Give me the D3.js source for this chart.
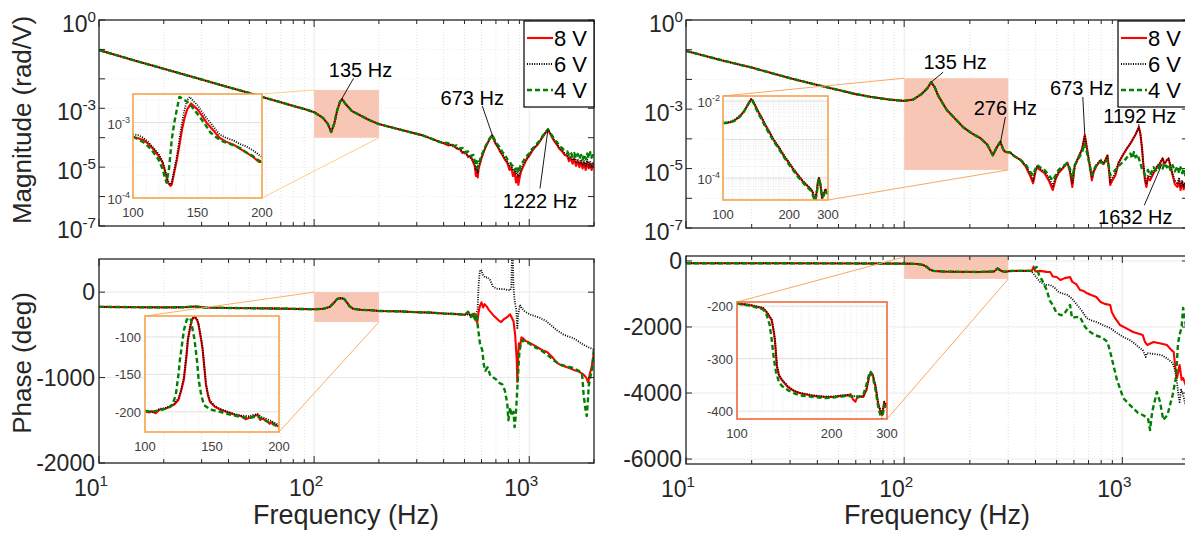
<!DOCTYPE html>
<html>
<head>
<meta charset="utf-8">
<script src="https://cdn.jsdelivr.net/npm/d3@7"></script>
<style>
  body { margin: 0; background: #fff; }
  svg { display: block; font-family: "Liberation Sans", Arial, Helvetica, sans-serif; }
</style>
</head>
<body>
<svg id="chart" width="1185" height="533"></svg>
<script>
// ---- series ----
const seriesNames = ["8 V", "6 V", "4 V"];

// ---- magnitude, left (rad/V) : [Hz, value] ----
const tlCommon = [[10,9.5e-2],[15,4.0e-2],[20,2.2e-2],[30,9.5e-3],[40,5.2e-3],[50,3.3e-3],[60,2.2e-3],[70,1.6e-3],[80,1.2e-3],[90,9.5e-4],[100,7.4e-4],[110,4.7e-4],[116,2.9e-4],[120,1.55e-4],[124,3.0e-4],[128,8.5e-4],[132,1.7e-3],[135,2.0e-3],[140,1.4e-3],[150,8.0e-4],[165,5.6e-4],[180,4.0e-4],[200,2.9e-4],[250,1.9e-4],[320,1.2e-4],[385,7.1e-5]];
const tlRedTail = [[400,6.5e-5],[420,5.5e-5],[440,5.8e-5],[460,4.3e-5],[478,4.0e-5],[490,3.0e-5],[505,3.3e-5],[520,2.2e-5],[535,2.4e-5],[550,1.4e-5],[558,1.1e-5],[565,5e-6],[570,8e-6],[576,4.5e-6],[582,9e-6],[590,1.3e-5],[600,2.0e-5],[611,3.0e-5],[625,4.5e-5],[640,6.5e-5],[655,9e-5],[673,1.2e-4],[685,8.5e-5],[700,6e-5],[717,4.6e-5],[735,3.2e-5],[750,2.6e-5],[770,1.8e-5],[791,1.4e-5],[810,8e-6],[825,1.0e-5],[840,5e-6],[855,7e-6],[868,3e-6],[880,5e-6],[890,2.5e-6],[900,4e-6],[915,7e-6],[935,1.0e-5],[955,1.4e-5],[979,2.0e-5],[1000,2.4e-5],[1030,3.5e-5],[1060,4.6e-5],[1089,5.6e-5],[1120,7.5e-5],[1150,1.0e-4],[1185,1.4e-4],[1222,1.9e-4],[1250,1.4e-4],[1280,1.0e-4],[1310,7.5e-5],[1349,5.6e-5],[1380,4.2e-5],[1420,3.5e-5],[1460,2.6e-5],[1503,2.4e-5],[1530,1.6e-5],[1560,2.0e-5],[1590,1.3e-5],[1620,1.9e-5],[1650,1.1e-5],[1680,1.6e-5],[1710,1.0e-5],[1740,1.5e-5],[1770,9e-6],[1800,1.4e-5],[1830,8e-6],[1860,1.5e-5],[1890,9e-6],[1920,1.3e-5],[1950,8e-6],[1980,1.2e-5],[2000,1.0e-5]];
const tlBlackTail = [[400,6.7e-5],[420,5.8e-5],[440,5.5e-5],[460,4.6e-5],[478,3.8e-5],[490,3.4e-5],[505,2.8e-5],[520,2.5e-5],[535,2.0e-5],[550,1.6e-5],[558,1.3e-5],[565,8e-6],[570,1.0e-5],[576,6.5e-6],[582,1.1e-5],[590,1.4e-5],[600,2.2e-5],[611,3.1e-5],[625,4.6e-5],[640,6.6e-5],[655,9.2e-5],[673,1.25e-4],[685,8.8e-5],[700,6.2e-5],[717,4.8e-5],[735,3.4e-5],[750,2.8e-5],[770,2.0e-5],[791,1.5e-5],[810,1.1e-5],[825,1.2e-5],[840,7.5e-6],[855,9e-6],[868,5.5e-6],[880,7e-6],[890,4.5e-6],[900,6e-6],[915,8.5e-6],[935,1.2e-5],[955,1.6e-5],[979,2.1e-5],[1000,2.6e-5],[1030,3.7e-5],[1060,4.8e-5],[1089,5.8e-5],[1120,7.8e-5],[1150,1.05e-4],[1185,1.45e-4],[1222,1.95e-4],[1250,1.45e-4],[1280,1.05e-4],[1310,8e-5],[1349,6e-5],[1380,4.6e-5],[1420,3.8e-5],[1460,3.0e-5],[1503,2.7e-5],[1530,2.0e-5],[1560,2.4e-5],[1590,1.7e-5],[1620,2.2e-5],[1650,1.5e-5],[1680,1.9e-5],[1710,1.3e-5],[1740,1.8e-5],[1770,1.2e-5],[1800,1.7e-5],[1830,1.1e-5],[1860,1.8e-5],[1890,1.2e-5],[1920,1.6e-5],[1950,1.1e-5],[1980,1.5e-5],[2000,1.3e-5]];
const tlGreenTail = [[400,7e-5],[420,6.5e-5],[440,5.2e-5],[460,5.5e-5],[478,4.2e-5],[490,4.5e-5],[505,3.2e-5],[520,3.4e-5],[535,2.4e-5],[550,2.6e-5],[558,1.6e-5],[565,1.2e-5],[570,1.6e-5],[576,9e-6],[582,1.5e-5],[590,1.7e-5],[600,2.6e-5],[611,3.3e-5],[625,5e-5],[640,7e-5],[655,9.5e-5],[673,1.25e-4],[685,9.5e-5],[700,7e-5],[717,5.5e-5],[735,4.5e-5],[750,3.2e-5],[770,2.8e-5],[791,1.8e-5],[810,1.6e-5],[825,1.2e-5],[840,1.1e-5],[855,8e-6],[868,9e-6],[880,6.5e-6],[890,1.0e-5],[900,8e-6],[915,1.3e-5],[935,1.5e-5],[955,2.0e-5],[979,2.5e-5],[1000,2.9e-5],[1030,4.2e-5],[1060,5.0e-5],[1089,6.5e-5],[1120,8e-5],[1150,1.1e-4],[1185,1.5e-4],[1222,1.9e-4],[1250,1.5e-4],[1280,1.15e-4],[1310,8.5e-5],[1349,7e-5],[1380,5.2e-5],[1420,4.5e-5],[1460,3.6e-5],[1503,3.4e-5],[1530,2.6e-5],[1560,3.2e-5],[1590,2.3e-5],[1620,3.0e-5],[1650,2.0e-5],[1680,2.8e-5],[1710,1.9e-5],[1740,2.6e-5],[1770,1.8e-5],[1800,2.7e-5],[1830,1.9e-5],[1860,2.9e-5],[1890,2.0e-5],[1920,3.2e-5],[1950,2.1e-5],[1980,3.0e-5],[2000,2.4e-5]];

// ---- magnitude, right ----
const trCommon = [[10,9.1e-2],[15,4.2e-2],[20,2.5e-2],[30,1.1e-2],[40,6.5e-3],[50,4.4e-3],[60,3.2e-3],[70,2.6e-3],[85,2.1e-3],[100,1.9e-3],[110,2.1e-3],[120,3.2e-3],[128,5.1e-3],[133,8.1e-3],[138,5.5e-3],[143,2.9e-3],[150,1.6e-3],[157,9.3e-4],[170,5e-4],[186,2.5e-4],[205,1.5e-4],[223,1.07e-4],[240,6.5e-5],[255,2.8e-5],[265,5e-5],[276,8e-5],[284,4.5e-5],[291,3.6e-5],[306,3.5e-5],[320,2.6e-5],[340,2.0e-5]];
const trRedTail = [[360,1.2e-5],[377,6e-6],[390,3.2e-6],[400,8e-6],[407,1.1e-5],[420,9e-6],[440,7e-6],[460,4e-6],[480,1.9e-6],[495,4.5e-6],[510,7e-6],[535,1.05e-5],[560,1.6e-5],[575,8e-6],[590,2.4e-6],[605,1.2e-5],[630,2.4e-5],[654,4.5e-5],[665,8.5e-5],[673,1.35e-4],[685,6e-5],[700,2.2e-5],[712,1.0e-5],[725,4e-6],[740,8e-6],[760,1.2e-5],[795,1.9e-5],[820,1.4e-5],[855,2.8e-5],[870,8e-6],[880,2.8e-6],[900,4e-6],[930,6e-6],[960,1.5e-5],[1000,2.6e-5],[1030,3.8e-5],[1060,5.3e-5],[1090,7e-5],[1120,1.0e-4],[1150,1.4e-4],[1175,2.0e-4],[1190,2.5e-4],[1210,1.5e-4],[1230,5e-5],[1250,1.2e-5],[1270,4e-6],[1290,2.4e-6],[1310,5e-6],[1340,4e-6],[1390,7e-6],[1440,1.1e-5],[1490,1.5e-5],[1530,2.2e-5],[1560,1.4e-5],[1600,1.9e-5],[1630,2.2e-5],[1660,1.2e-5],[1700,6e-6],[1740,3e-6],[1790,2.4e-6],[1820,4e-6],[1850,1.9e-6],[1880,3.5e-6],[1910,2e-6],[1940,3e-6],[1970,1.8e-6],[2000,2.6e-6]];
const trBlackTail = [[360,1.3e-5],[377,7e-6],[390,4e-6],[400,9e-6],[407,1.2e-5],[420,1.0e-5],[440,8e-6],[460,5e-6],[480,2.6e-6],[495,5e-6],[510,8e-6],[535,1.1e-5],[560,1.5e-5],[575,9e-6],[590,3e-6],[605,1.3e-5],[630,2.5e-5],[654,4.5e-5],[665,8.5e-5],[673,1.3e-4],[685,6e-5],[700,2.4e-5],[712,1.2e-5],[725,5e-6],[740,9e-6],[760,1.3e-5],[795,2.0e-5],[820,1.5e-5],[855,2.6e-5],[870,9e-6],[880,3.5e-6],[900,5e-6],[930,7e-6],[960,1.6e-5],[1000,2.7e-5],[1030,3.8e-5],[1060,5.2e-5],[1090,7e-5],[1120,1.0e-4],[1150,1.4e-4],[1175,2.0e-4],[1190,2.4e-4],[1210,1.5e-4],[1230,5.5e-5],[1250,1.4e-5],[1270,5e-6],[1290,3e-6],[1310,6e-6],[1340,5e-6],[1390,8e-6],[1440,1.2e-5],[1490,1.6e-5],[1530,2.2e-5],[1560,1.5e-5],[1600,2.0e-5],[1630,2.2e-5],[1660,1.3e-5],[1700,7e-6],[1740,4e-6],[1790,3e-6],[1820,5e-6],[1850,2.4e-6],[1880,4e-6],[1910,2.5e-6],[1940,3.5e-6],[1970,2.2e-6],[2000,3e-6]];
const trGreenTail = [[360,1.4e-5],[377,8e-6],[390,6e-6],[400,1.0e-5],[407,1.3e-5],[420,1.1e-5],[440,9e-6],[460,6e-6],[480,4e-6],[495,6e-6],[510,9e-6],[535,1.2e-5],[560,1.5e-5],[575,1.0e-5],[590,5e-6],[605,1.3e-5],[630,2.2e-5],[654,3.5e-5],[665,5.5e-5],[673,7e-5],[685,4e-5],[700,2.0e-5],[712,1.1e-5],[725,6e-6],[740,9e-6],[760,1.3e-5],[795,1.7e-5],[820,1.4e-5],[855,2.0e-5],[870,1.0e-5],[880,6e-6],[900,7e-6],[930,9e-6],[960,1.2e-5],[1000,1.6e-5],[1030,2.0e-5],[1060,2.6e-5],[1090,3.2e-5],[1110,2.2e-5],[1130,3.6e-5],[1150,2.4e-5],[1175,3.0e-5],[1190,2.2e-5],[1210,1.5e-5],[1230,1.0e-5],[1250,8e-6],[1270,6e-6],[1290,7e-6],[1310,9e-6],[1340,6e-6],[1390,1.1e-5],[1440,8e-6],[1490,1.3e-5],[1530,1.0e-5],[1560,1.5e-5],[1600,1.1e-5],[1630,1.4e-5],[1660,9e-6],[1700,1.3e-5],[1740,8e-6],[1790,1.2e-5],[1820,7e-6],[1850,1.1e-5],[1880,7e-6],[1910,1.0e-5],[1940,6e-6],[1970,9e-6],[2000,7e-6]];

// ---- phase, left (deg) ----
const blCommon = [[10,-172],[15,-176],[20,-178],[25,-176],[28,-168],[31,-180],[40,-185],[60,-190],[80,-196],[100,-200],[110,-195],[118,-175],[124,-120],[128,-80],[133,-70],[138,-80],[142,-120],[146,-165],[152,-195],[165,-207],[185,-212],[200,-220],[250,-225],[300,-235],[350,-240],[400,-250],[450,-255],[500,-265]];
const blRedTail = [[520,-240],[540,-290],[555,-250],[565,-320],[573,-360],[580,-250],[590,-160],[600,-120],[610,-180],[620,-140],[635,-170],[650,-210],[665,-240],[680,-270],[700,-300],[720,-330],[740,-350],[760,-320],[780,-300],[800,-280],[815,-260],[830,-300],[845,-340],[860,-500],[875,-800],[880,-1050],[888,-750],[895,-600],[905,-650],[920,-530],[935,-540],[960,-570],[1000,-590],[1050,-620],[1100,-650],[1150,-680],[1210,-700],[1280,-760],[1350,-830],[1420,-860],[1500,-880],[1610,-910],[1700,-930],[1790,-965],[1840,-1000],[1880,-1060],[1910,-960],[1950,-880],[2000,-700]];
const blBlackTail = [[520,-260],[540,-280],[555,-300],[565,-270],[575,-200],[582,100],[590,260],[600,250],[610,200],[625,170],[640,175],[655,150],[680,60],[710,40],[760,35],[800,25],[815,20],[825,60],[832,420],[838,420],[845,60],[855,-100],[870,-200],[880,-420],[890,-250],[905,-150],[925,-190],[950,-220],[979,-245],[1030,-270],[1120,-300],[1200,-340],[1280,-400],[1350,-450],[1450,-500],[1610,-540],[1700,-580],[1800,-620],[1900,-650],[2000,-670]];
const blGreenTail = [[520,-230],[535,-290],[550,-240],[560,-320],[570,-280],[578,-420],[590,-600],[605,-680],[615,-850],[625,-920],[640,-880],[660,-980],[680,-1000],[700,-1020],[720,-1060],[750,-1080],[770,-1150],[790,-1300],[800,-1500],[815,-1350],[830,-1450],[845,-1400],[855,-1580],[865,-1450],[875,-1250],[890,-900],[900,-700],[915,-590],[935,-560],[960,-590],[1000,-600],[1050,-640],[1100,-660],[1210,-730],[1300,-800],[1400,-850],[1500,-870],[1610,-890],[1700,-920],[1760,-960],[1790,-1200],[1820,-1350],[1850,-1450],[1870,-1300],[1890,-1100],[1920,-1000],[1960,-900],[2000,-650]];

// ---- phase, right (deg) ----
const brCommon = [[10,-70],[30,-70],[60,-75],[100,-80],[115,-91],[122,-120],[127,-180],[131,-260],[136,-300],[150,-320],[180,-330],[220,-333],[258,-320],[268,-227],[278,-300],[290,-330],[306,-303],[340,-300],[377,-300]];
const brRedTail = [[385,-300],[392,-170],[400,-320],[420,-300],[450,-330],[467,-333],[480,-470],[500,-485],[520,-576],[545,-520],[576,-485],[590,-636],[615,-700],[640,-879],[660,-900],[685,-970],[720,-1030],[760,-1091],[795,-1242],[830,-1300],[880,-1333],[895,-1550],[920,-1700],[975,-1939],[1050,-2050],[1120,-2152],[1180,-2200],[1240,-2242],[1270,-2450],[1300,-2545],[1390,-2455],[1500,-2500],[1600,-2545],[1680,-2700],[1720,-2760],[1750,-3242],[1780,-3545],[1830,-3152],[1870,-3600],[1900,-3545],[1950,-3758],[2000,-3700]];
const brBlackTail = [[385,-330],[395,-424],[420,-636],[445,-727],[467,-727],[490,-818],[510,-939],[540,-1000],[560,-1030],[590,-1150],[620,-1333],[650,-1500],[685,-1727],[720,-1800],[760,-1848],[820,-1950],[880,-2030],[930,-2150],[975,-2242],[1030,-2330],[1080,-2394],[1140,-2500],[1200,-2636],[1240,-2700],[1280,-2909],[1300,-2788],[1400,-2820],[1510,-2848],[1600,-2950],[1700,-3091],[1740,-3300],[1780,-3667],[1810,-4100],[1830,-4273],[1860,-3900],[1900,-4061],[1950,-4364],[2000,-4200]];
const brGreenTail = [[385,-300],[395,-240],[405,-182],[415,-420],[430,-600],[450,-879],[465,-1200],[480,-1333],[500,-1576],[520,-1636],[535,-1636],[555,-1500],[576,-1333],[588,-1727],[610,-1700],[640,-1697],[675,-2000],[712,-2152],[750,-2250],[795,-2303],[830,-2380],[855,-2455],[880,-2758],[910,-3152],[945,-3606],[980,-3900],[1010,-4152],[1060,-4300],[1120,-4455],[1180,-4600],[1240,-4667],[1310,-4758],[1340,-5121],[1370,-4576],[1440,-3970],[1490,-4273],[1540,-4818],[1610,-4667],[1700,-4061],[1760,-3545],[1800,-2500],[1830,-2242],[1870,-2000],[1900,-1424],[1940,-1800],[1970,-2100],[2000,-1900]];

// ---- insets ----
const tlInsetRed = [[100,6.5e-4],[104,6.2e-4],[108,5.9e-4],[112,5.2e-4],[116,4.4e-4],[120,3.6e-4],[123,2.95e-4],[125,2.2e-4],[127,1.6e-4],[129,1.45e-4],[130,1.5e-4],[132,2.2e-4],[134,3.2e-4],[136,5e-4],[138,8.1e-4],[140,1.15e-3],[142,1.5e-3],[145,1.8e-3],[150,1.5e-3],[154,1.2e-3],[157,1.0e-3],[162,8e-4],[167,6.3e-4],[172,5.6e-4],[178,5.1e-4],[183,4.5e-4],[188,4.0e-4],[193,3.5e-4],[198,3.0e-4],[200,3.0e-4]];
const tlInsetBlack = [[100,7e-4],[104,6.8e-4],[108,6.3e-4],[112,5.5e-4],[116,4.6e-4],[120,3.8e-4],[123,3.0e-4],[125,2.3e-4],[127,1.7e-4],[129,1.5e-4],[130,1.6e-4],[132,2.4e-4],[134,3.6e-4],[136,6e-4],[138,1.0e-3],[140,1.5e-3],[142,2.0e-3],[144,2.2e-3],[146,2.0e-3],[150,1.7e-3],[154,1.35e-3],[157,1.15e-3],[162,9e-4],[167,7e-4],[172,6.3e-4],[178,5.8e-4],[183,5.2e-4],[188,4.8e-4],[193,4.3e-4],[198,3.7e-4],[200,3.5e-4]];
const tlInsetGreen = [[100,6.5e-4],[104,6.0e-4],[108,5.5e-4],[112,4.8e-4],[116,4.0e-4],[120,3.2e-4],[123,2.4e-4],[125,1.8e-4],[126,1.6e-4],[128,2.5e-4],[130,5.9e-4],[132,1.0e-3],[134,1.5e-3],[136,2.2e-3],[138,2.1e-3],[142,1.9e-3],[146,1.6e-3],[150,1.3e-3],[155,1.0e-3],[160,7.4e-4],[165,6.3e-4],[170,5.6e-4],[178,5.0e-4],[183,4.6e-4],[188,4.0e-4],[193,3.6e-4],[198,3.1e-4],[200,3.0e-4]];

const trInsetRed = [[100,2.7e-3],[104,2.7e-3],[108,2.8e-3],[112,3.1e-3],[115,3.4e-3],[119,4.0e-3],[122,4.6e-3],[125,5.6e-3],[128,7e-3],[131,8.8e-3],[134,1.1e-2],[136,1.05e-2],[138,9e-3],[141,7e-3],[145,5.1e-3],[150,3.6e-3],[155,2.5e-3],[162,1.6e-3],[170,9.7e-4],[180,6e-4],[190,3.6e-4],[200,2.4e-4],[210,1.6e-4],[220,1.15e-4],[230,8.3e-5],[240,6.5e-5],[250,5.2e-5],[256,4.2e-5],[262,2.2e-5],[266,4e-5],[270,8e-5],[273,1.0e-4],[277,7e-5],[282,3e-5],[287,3.8e-5],[292,5e-5],[296,4.2e-5],[300,4e-5]];
const trInsetBlack = [[100,2.8e-3],[104,2.8e-3],[108,2.9e-3],[112,3.2e-3],[115,3.5e-3],[119,4.1e-3],[122,4.7e-3],[125,5.7e-3],[128,7.1e-3],[131,9e-3],[134,1.12e-2],[136,1.06e-2],[138,9.2e-3],[141,7.2e-3],[145,5.3e-3],[150,3.7e-3],[155,2.6e-3],[162,1.65e-3],[170,1.0e-3],[180,6.2e-4],[190,3.8e-4],[200,2.5e-4],[210,1.7e-4],[220,1.2e-4],[230,8.6e-5],[240,6.7e-5],[250,5.4e-5],[256,4.4e-5],[262,2.8e-5],[266,4.2e-5],[270,8.2e-5],[273,1.0e-4],[277,7.2e-5],[282,3.2e-5],[287,4e-5],[292,5.2e-5],[296,4.4e-5],[300,4.1e-5]];
const trInsetGreen = [[100,2.7e-3],[104,2.7e-3],[108,2.8e-3],[112,3.0e-3],[115,3.3e-3],[119,3.9e-3],[122,4.5e-3],[125,5.5e-3],[128,7e-3],[131,8.8e-3],[134,1.08e-2],[136,1.02e-2],[138,8.6e-3],[141,6.5e-3],[145,4.7e-3],[150,3.3e-3],[155,2.3e-3],[162,1.45e-3],[170,9e-4],[180,5.6e-4],[190,3.4e-4],[200,2.2e-4],[210,1.5e-4],[220,1.05e-4],[230,7.8e-5],[240,6e-5],[250,4.8e-5],[256,3.6e-5],[262,2.6e-5],[266,3.6e-5],[270,7e-5],[273,9.5e-5],[277,6.8e-5],[282,3.2e-5],[287,3.5e-5],[292,4.8e-5],[296,4.2e-5],[300,3.8e-5]];

const blInsetRed = [[100,-199],[103,-201],[105,-199],[108,-202],[111,-197],[115,-196],[119,-193],[122,-190],[125,-184],[127,-172],[129,-157],[131,-125],[132,-104],[134,-85],[135,-77],[137,-73],[139,-78],[140,-84],[142,-105],[143,-117],[145.5,-164],[147,-178],[148.5,-187],[152,-193],[156,-197],[162,-201],[167,-204],[172,-206],[175,-210],[178,-208],[181,-206],[184,-204],[186,-211],[187,-209],[190,-211],[193,-216],[194,-214],[197,-217],[200,-220]];
const blInsetBlack = [[100,-198],[103,-199],[105,-201],[108,-199],[111,-196],[115,-195],[119,-192],[122,-189],[125,-182],[127,-170],[129,-154],[131,-122],[132,-102],[134,-83],[135,-76],[137,-72],[139,-77],[140,-83],[142,-103],[143,-115],[145.5,-162],[147,-176],[148.5,-185],[152,-192],[156,-196],[162,-200],[167,-203],[172,-205],[178,-206],[181,-204],[184,-203],[187,-207],[190,-209],[194,-212],[197,-215],[200,-218]];
const blInsetGreen = [[100,-199],[105,-200],[111,-198],[115,-196],[119,-193],[121,-188],[123,-177],[125,-150],[126,-131],[128,-105],[129,-91],[131,-78],[132,-75],[134,-75],[135,-85],[137,-104],[139,-135],[140,-157],[142,-178],[144,-191],[149,-197],[156,-200],[162,-203],[167,-205],[172,-207],[178,-208],[184,-206],[190,-212],[197,-218],[200,-221]];

const brInsetRed = [[100,-195],[110,-198],[121,-204],[124,-211],[127,-220],[129,-227],[131,-250],[132,-265],[134,-316],[136,-332],[139,-341],[145,-354],[152,-362],[159,-366],[175,-371],[190,-373],[202,-373],[215,-371],[224,-370],[230,-368],[234,-378],[238,-382],[242,-372],[252,-373],[258,-360],[263,-335],[266,-327],[270,-330],[276,-354],[281,-385],[285,-398],[289,-408],[292,-395],[294,-383],[297,-392],[300,-385]];
const brInsetBlack = [[100,-195],[110,-197],[121,-203],[124,-210],[127,-219],[129,-226],[131,-248],[132,-262],[134,-312],[136,-330],[139,-340],[145,-352],[152,-361],[159,-365],[175,-370],[190,-372],[202,-372],[215,-370],[224,-369],[234,-372],[242,-371],[252,-372],[258,-358],[263,-333],[266,-326],[270,-329],[276,-352],[281,-383],[285,-396],[289,-404],[292,-392],[294,-382],[297,-390],[300,-384]];
const brInsetGreen = [[100,-195],[110,-199],[121,-206],[124,-215],[127,-235],[129,-265],[131,-300],[133,-325],[136,-345],[139,-352],[145,-360],[152,-366],[159,-370],[175,-373],[190,-375],[202,-374],[215,-372],[224,-371],[234,-372],[242,-374],[252,-370],[258,-350],[263,-330],[266,-325],[270,-333],[276,-360],[281,-390],[285,-405],[289,-418],[292,-400],[294,-388],[297,-395],[300,-390]];

// ---- ticks / annotations ----
const magTickExps = [0, -3, -5, -7];
const blPhaseTicks = [0, -1000, -2000];
const brPhaseTicks = [0, -2000, -4000, -6000];
const freqTickExps = [1, 2, 3];
const tlPeaks = [{ f: 134, v: 2.0e-3, label: "135 Hz" }, { f: 673, v: 1.25e-4, label: "673 Hz" }, { f: 1222, v: 1.9e-4, label: "1222 Hz" }];
const trPeaks = [{ f: 133, v: 8.1e-3, label: "135 Hz" }, { f: 276, v: 7.2e-5, label: "276 Hz" }, { f: 673, v: 1.35e-4, label: "673 Hz" }, { f: 1190, v: 2.5e-4, label: "1192 Hz" }, { f: 1525, v: 1.5e-5, label: "1632 Hz" }];

// ---------------------------------------------------------------------------
const svg = d3.select("#chart");
const INK = "#262626";
const styles = [
  { color: "#ff0000", width: 2.1, dash: null },
  { color: "#000000", width: 1.8, dash: "1,1.4" },
  { color: "#008000", width: 2.4, dash: "5,3" },
];
let clipCount = 0;

function clipFor(g, x, y, w, h) {
  const id = `clip-${clipCount++}`;
  g.append("clipPath").attr("id", id).append("rect").attr("x", x).attr("y", y).attr("width", w).attr("height", h);
  return `url(#${id})`;
}

function drawCurves(g, x, y, data, clip) {
  const line = d3.line().x((d) => x(d[0])).y((d) => y(d[1]));
  const cg = g.append("g").attr("clip-path", clip);
  data.forEach((d, i) => {
    const s = styles[i];
    cg.append("path").attr("d", line(d)).attr("fill", "none")
      .attr("stroke", s.color).attr("stroke-width", s.width)
      .attr("stroke-dasharray", s.dash).attr("stroke-linejoin", "round");
  });
}

// superscript label: "10" with exponent
function powLabel(g, exp, x, y, anchor, size) {
  const t = g.append("text").attr("x", x).attr("y", y).attr("text-anchor", anchor)
    .attr("fill", INK).attr("font-size", size);
  t.append("tspan").text("10");
  t.append("tspan").attr("dy", -size * 0.45).attr("font-size", size * 0.66).text(exp);
  return t;
}

function drawPanel(p) {
  const g = svg.append("g");
  const x = d3.scaleLog().domain([10, 2000]).range([p.x0, p.x1]);
  const y = (p.log ? d3.scaleLog() : d3.scaleLinear()).domain(p.yDomain).range([p.y1, p.y0]);
  const w = p.x1 - p.x0, h = p.y1 - p.y0;
  g.append("rect").attr("x", p.x0).attr("y", p.y0).attr("width", w).attr("height", h).attr("fill", "#fff");

  // grid
  const majorX = [10, 100, 1000];
  const minorX = [];
  [10, 100, 1000].forEach((d) => { for (let k = 2; k <= 9; k++) if (d * k <= 2000) minorX.push(d * k); });
  g.selectAll(null).data(minorX).join("line")
    .attr("x1", x).attr("x2", x).attr("y1", p.y0).attr("y2", p.y1)
    .attr("stroke", "#dcdcdc").attr("stroke-width", 0.8).attr("stroke-dasharray", "1,2");
  g.selectAll(null).data(majorX).join("line")
    .attr("x1", x).attr("x2", x).attr("y1", p.y0).attr("y2", p.y1)
    .attr("stroke", "#e4e4e4").attr("stroke-width", 0.8);
  g.selectAll(null).data(p.yGrid).join("line")
    .attr("x1", p.x0).attr("x2", p.x1).attr("y1", y).attr("y2", y)
    .attr("stroke", "#e4e4e4").attr("stroke-width", 0.8).attr("stroke-dasharray", p.log ? "1,2" : null);

  // zoom region
  const z = p.zoom;
  g.append("rect").attr("x", x(z.f[0])).attr("y", y(z.v[1]))
    .attr("width", x(z.f[1]) - x(z.f[0])).attr("height", y(z.v[0]) - y(z.v[1]))
    .attr("fill", "#f8c6b5").attr("clip-path", clipFor(g, p.x0, p.y0, w, h));

  drawCurves(g, x, y, p.data, clipFor(g, p.x0, p.y0, w, h));

  // frame + ticks
  g.append("rect").attr("x", p.x0).attr("y", p.y0).attr("width", w).attr("height", h)
    .attr("fill", "none").attr("stroke", INK).attr("stroke-width", 1.3);
  const tk = g.append("g").attr("stroke", INK).attr("stroke-width", 1);
  majorX.concat(minorX).forEach((f) => {
    const len = majorX.includes(f) ? 7 : 4;
    tk.append("line").attr("x1", x(f)).attr("x2", x(f)).attr("y1", p.y1).attr("y2", p.y1 - len);
    tk.append("line").attr("x1", x(f)).attr("x2", x(f)).attr("y1", p.y0).attr("y2", p.y0 + len);
  });
  p.yTickMarks.forEach((v) => {
    tk.append("line").attr("x1", p.x0).attr("x2", p.x0 + 6).attr("y1", y(v)).attr("y2", y(v));
    tk.append("line").attr("x1", p.x1).attr("x2", p.x1 - 6).attr("y1", y(v)).attr("y2", y(v));
  });

  // y labels
  if (p.log) {
    magTickExps.forEach((e) => powLabel(g, String(e), p.x0 - 3, y(Math.pow(10, e)) + 12, "end", 23));
  } else {
    p.yLabels.forEach((v) => g.append("text").attr("x", p.x0 - 4).attr("y", y(v) + 8)
      .attr("text-anchor", "end").attr("fill", INK).attr("font-size", 23).text(v));
  }
  // x labels (only under phase panels)
  if (p.xLabels) {
    freqTickExps.forEach((e) => powLabel(g, String(e), x(Math.pow(10, e)) - 25, p.y1 + 33, "start", 23));
  }
  return { x, y };
}

function drawInset(ins) {
  const g = svg.append("g");
  const w = ins.x1 - ins.x0, h = ins.y1 - ins.y0;
  const x = (ins.xlog ? d3.scaleLog() : d3.scaleLinear()).domain(ins.xDomain).range([ins.x0, ins.x1]);
  const y = (ins.ylog ? d3.scaleLog() : d3.scaleLinear()).domain(ins.yDomain).range([ins.y1, ins.y0]);
  g.append("rect").attr("x", ins.x0).attr("y", ins.y0).attr("width", w).attr("height", h).attr("fill", "#fff");
  g.selectAll(null).data(ins.xGrid).join("line")
    .attr("x1", x).attr("x2", x).attr("y1", ins.y0).attr("y2", ins.y1)
    .attr("stroke", "#e2e2e2").attr("stroke-width", 0.7).attr("stroke-dasharray", "1,1.5");
  g.selectAll(null).data(ins.yGrid).join("line")
    .attr("x1", ins.x0).attr("x2", ins.x1).attr("y1", y).attr("y2", y)
    .attr("stroke", "#e2e2e2").attr("stroke-width", 0.7).attr("stroke-dasharray", "1,1.5");
  g.selectAll(null).data(ins.yMajor).join("line")
    .attr("x1", ins.x0).attr("x2", ins.x1).attr("y1", y).attr("y2", y)
    .attr("stroke", "#e0e0e0").attr("stroke-width", 1);
  drawCurves(g, x, y, ins.data, clipFor(g, ins.x0, ins.y0, w, h));
  g.append("rect").attr("x", ins.x0).attr("y", ins.y0).attr("width", w).attr("height", h)
    .attr("fill", "none").attr("stroke", ins.border).attr("stroke-width", 1.6);

  ins.xLabels.forEach((v) => g.append("text").attr("x", x(v)).attr("y", ins.y1 + 19)
    .attr("text-anchor", "middle").attr("fill", "#404040").attr("font-size", 13).text(v));
  ins.yLabels.forEach((v) => {
    if (ins.ylog) {
      const t = g.append("text").attr("x", ins.x0 - 3).attr("y", y(v) + 6).attr("text-anchor", "end")
        .attr("fill", "#404040").attr("font-size", 13);
      t.append("tspan").text("10");
      t.append("tspan").attr("dy", -6).attr("font-size", 9).text(String(Math.round(Math.log10(v))));
    } else {
      g.append("text").attr("x", ins.x0 - 4).attr("y", y(v) + 5).attr("text-anchor", "end")
        .attr("fill", "#404040").attr("font-size", 13).text(v);
    }
  });
  return { x, y };
}

function connect(a, b, color) {
  svg.append("line").attr("x1", a[0]).attr("y1", a[1]).attr("x2", b[0]).attr("y2", b[1])
    .attr("stroke", color).attr("stroke-width", 1);
}

function drawLegend(x0, y0, w, rowH) {
  const g = svg.append("g");
  g.append("rect").attr("x", x0).attr("y", y0).attr("width", w).attr("height", rowH * 3 + 8)
    .attr("fill", "#fff").attr("stroke", "#000").attr("stroke-width", 1.2);
  seriesNames.forEach((name, i) => {
    const s = styles[i];
    const cy = y0 + 17 + i * rowH;
    g.append("line").attr("x1", x0 + 3).attr("x2", x0 + 29).attr("y1", cy).attr("y2", cy)
      .attr("stroke", s.color).attr("stroke-width", s.width).attr("stroke-dasharray", s.dash);
    g.append("text").attr("x", x0 + 30).attr("y", cy + 8).attr("font-size", 22).attr("fill", "#000").text(name);
  });
}

function drawPeaks(sc, peaks, offsets) {
  const g = svg.append("g");
  peaks.forEach((pk, i) => {
    const o = offsets[i];
    const px = sc.x(pk.f), py = sc.y(pk.v);
    g.append("line").attr("x1", px).attr("y1", py).attr("x2", px + o.lx).attr("y2", py + o.ly)
      .attr("stroke", "#000").attr("stroke-width", 0.9);
    g.append("text").attr("x", px + o.tx).attr("y", py + o.ty).attr("text-anchor", "middle")
      .attr("font-size", 20).attr("fill", "#000").text(pk.label);
  });
}

// ---- panels ----
const magGrid = d3.range(0, 8).map((k) => Math.pow(10, -k));
const TL = drawPanel({
  x0: 99, x1: 594, y0: 20, y1: 226, log: true, yDomain: [1e-7, 1],
  yGrid: magGrid, yTickMarks: magGrid,
  zoom: { f: [100, 200], v: [1e-4, 4.2e-3] },
  data: [tlCommon.concat(tlRedTail), tlCommon.concat(tlBlackTail), tlCommon.concat(tlGreenTail)],
});
const TR = drawPanel({
  x0: 686, x1: 1188, y0: 20, y1: 228, log: true, yDomain: [1e-7, 1],
  yGrid: magGrid, yTickMarks: magGrid,
  zoom: { f: [100, 300], v: [9e-6, 1.1e-2] },
  data: [trCommon.concat(trRedTail), trCommon.concat(trBlackTail), trCommon.concat(trGreenTail)],
});
const BL = drawPanel({
  x0: 99, x1: 594, y0: 259, y1: 463, log: false, yDomain: [-2000, 388],
  yGrid: blPhaseTicks, yTickMarks: blPhaseTicks, yLabels: blPhaseTicks, xLabels: true,
  zoom: { f: [100, 200], v: [-350, 0] },
  data: [blCommon.concat(blRedTail), blCommon.concat(blBlackTail), blCommon.concat(blGreenTail)],
});
const BR = drawPanel({
  x0: 686, x1: 1188, y0: 256, y1: 464, log: false, yDomain: [-6150, 150],
  yGrid: brPhaseTicks, yTickMarks: brPhaseTicks, yLabels: brPhaseTicks, xLabels: true,
  zoom: { f: [100, 300], v: [-545, 120] },
  data: [brCommon.concat(brRedTail), brCommon.concat(brBlackTail), brCommon.concat(brGreenTail)],
});

// ---- connectors (drawn before insets) ----
connect([262, 94], [TL.x(100), TL.y(4.2e-3)], "#fcd08a");
connect([262, 198], [TL.x(200), TL.y(1e-4)], "#fcd08a");
connect([723, 96], [TR.x(100), TR.y(1.1e-2)], "#f9a862");
connect([828, 200], [TR.x(300), TR.y(9e-6)], "#f9a862");
connect([145, 316], [BL.x(100), BL.y(0)], "#f9b06a");
connect([279, 432], [BL.x(200), BL.y(-350)], "#f9b06a");
connect([737, 302], [BR.x(100), BR.y(120)], "#f9a862");
connect([887, 419], [BR.x(300), BR.y(-545)], "#f9a862");

// ---- insets ----
const tens = (lo, hi, step) => d3.range(lo, hi + 0.001, step);
const logMinor = (decades) => decades.flatMap((d) => d3.range(1, 10).map((k) => d * k));
drawInset({
  x0: 133, x1: 262, y0: 94, y1: 198, xDomain: [100, 200], yDomain: [1e-4, 2.4e-3], ylog: true,
  xGrid: tens(110, 190, 10), yGrid: logMinor([1e-4, 1e-3]).filter((v) => v > 1e-4 && v < 2.4e-3), yMajor: [1e-3],
  xLabels: [100, 150, 200], yLabels: [1e-3, 1e-4], border: "#f6a24c",
  data: [tlInsetRed, tlInsetBlack, tlInsetGreen],
});
drawInset({
  x0: 723, x1: 828, y0: 96, y1: 200, xDomain: [100, 300], xlog: true, yDomain: [2.7e-5, 1.35e-2], ylog: true,
  xGrid: tens(110, 290, 10), yGrid: logMinor([1e-5, 1e-4, 1e-3, 1e-2]).filter((v) => v > 2.7e-5 && v < 1.35e-2), yMajor: [1e-2, 1e-3, 1e-4],
  xLabels: [100, 200, 300], yLabels: [1e-2, 1e-4], border: "#f6a24c",
  data: [trInsetRed, trInsetBlack, trInsetGreen],
});
drawInset({
  x0: 145, x1: 279, y0: 316, y1: 432, xDomain: [100, 200], yDomain: [-227, -72],
  xGrid: tens(110, 190, 10), yGrid: [-125, -175], yMajor: [-100, -150, -200],
  xLabels: [100, 150, 200], yLabels: [-100, -150, -200], border: "#f6a24c",
  data: [blInsetRed, blInsetBlack, blInsetGreen],
});
drawInset({
  x0: 737, x1: 887, y0: 302, y1: 419, xDomain: [100, 300], xlog: true, yDomain: [-415, -192],
  xGrid: tens(110, 290, 10), yGrid: [-250, -350], yMajor: [-200, -300, -400],
  xLabels: [100, 200, 300], yLabels: [-200, -300, -400], border: "#f2683c",
  data: [brInsetRed, brInsetBlack, brInsetGreen],
});

// ---- legends + peak labels ----
drawLegend(524, 21, 70, 26);
drawLegend(1118, 21, 72, 26);
drawPeaks(TL, tlPeaks, [
  { lx: 12, ly: -21, tx: 19, ty: -22 },
  { lx: -10, ly: -29, tx: -20, ty: -30 },
  { lx: -8, ly: 59, tx: -8, ty: 78 },
]);
drawPeaks(TR, trPeaks, [
  { lx: 12, ly: -10, tx: 24, ty: -13 },
  { lx: 5, ly: -26, tx: 5, ty: -28 },
  { lx: -2, ly: -38, tx: -3, ty: -40 },
  { lx: 0, ly: -3, tx: 1, ty: -4 },
  { lx: -18, ly: 42, tx: -27, ty: 61 },
]);

// ---- axis titles ----
const titles = svg.append("g").attr("fill", INK).attr("text-anchor", "middle");
titles.append("text").attr("transform", "translate(31,120) rotate(-90)").attr("font-size", 26).text("Magnitude (rad/V)");
titles.append("text").attr("transform", "translate(31,363) rotate(-90)").attr("font-size", 26).text("Phase (deg)");
titles.append("text").attr("x", 346).attr("y", 524).attr("font-size", 27).text("Frequency (Hz)");
titles.append("text").attr("x", 937).attr("y", 524).attr("font-size", 27).text("Frequency (Hz)");
</script>
</body>
</html>
